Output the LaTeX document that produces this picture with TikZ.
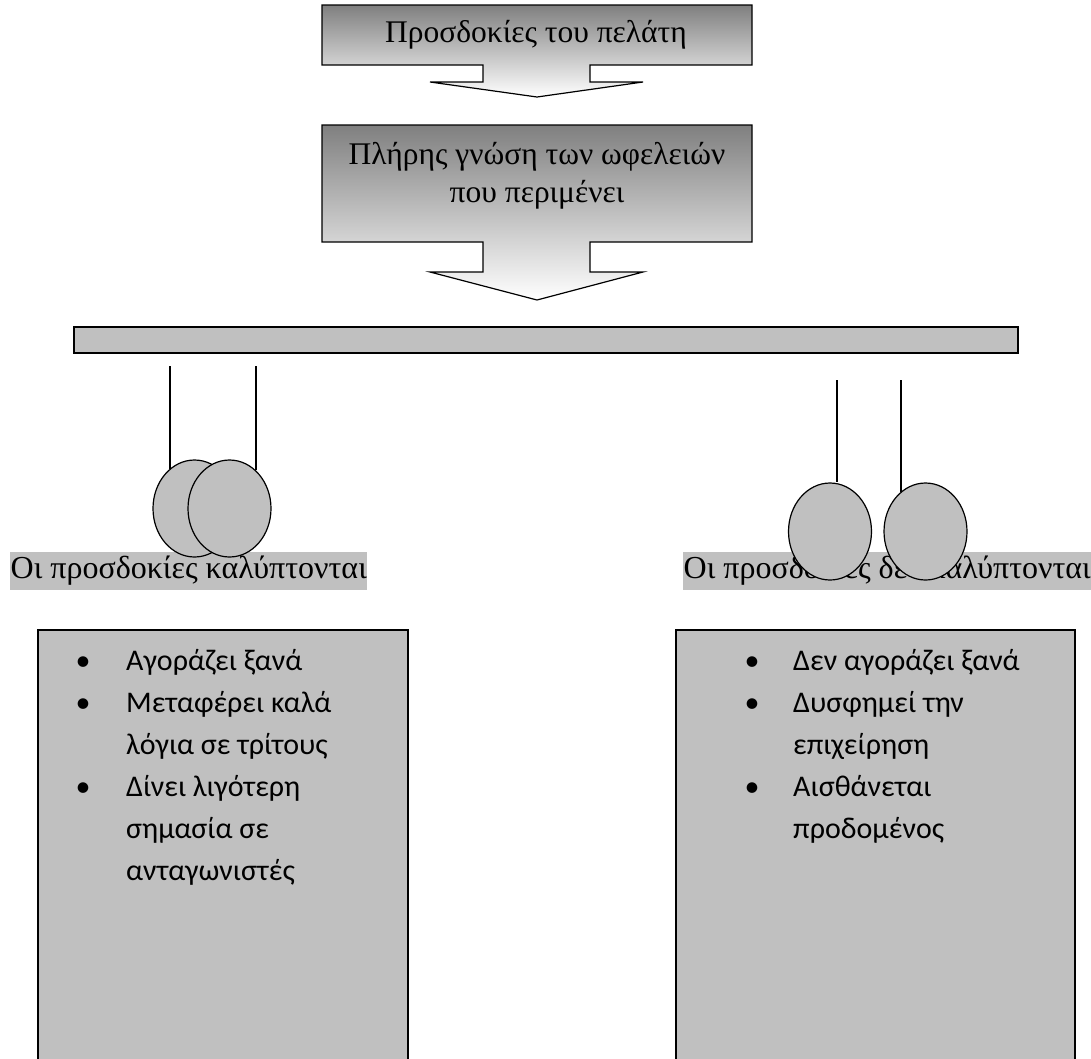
\documentclass[tikz,border=0pt]{standalone}
\usepackage{fontspec}
\setmainfont{Liberation Serif}
\newfontfamily\bodyfont{Carlito}
\usetikzlibrary{shapes.geometric}
\definecolor{panel}{HTML}{C0C0C0}
\begin{document}
\begin{tikzpicture}[x=1pt,y=-1pt,
  callout/.style={draw=black, line width=1.2pt, top color=gray, bottom color=white},
  panelbox/.style={draw=black, line width=1.2pt, fill=panel},
  headtext/.style={font=\fontsize{31.5}{38}\selectfont, align=center, inner sep=0pt},
  tag/.style={font=\fontsize{32}{36}\selectfont, fill=panel, inner xsep=0.5pt, inner ysep=0pt,
              minimum height=38pt, anchor=west},
  bob/.style={ellipse, draw=black, line width=1.2pt, fill=panel, minimum width=83pt,
              minimum height=97pt, inner sep=0pt},
  string/.style={draw=black, line width=1.4pt},
  dot/.style={font=\bodyfont\fontsize{30}{36}\selectfont, anchor=base, inner sep=0pt},
  item/.style={font=\bodyfont\fontsize{30}{36}\selectfont, anchor=base west, inner sep=0pt}
]
\useasboundingbox (0,0) rectangle (1091,1058);
\clip (0,0) rectangle (1091,1058);

% first callout arrow
\shade[callout] (322,5) -- (752,5) -- (752,65) -- (590,65) -- (590,82) -- (643,82)
  -- (537,97) -- (430,82) -- (483,82) -- (483,65) -- (322,65) -- cycle;
\node[headtext] (expect) at (536,35) {Προσδοκίες του πελάτη};

% second callout arrow
\shade[callout] (322,125) -- (752,125) -- (752,242) -- (590,242) -- (590,272) -- (643,272)
  -- (537,300) -- (430,272) -- (483,272) -- (483,242) -- (322,242) -- cycle;
\node[headtext] (know) at (537,176) {Πλήρης γνώση των ωφελειών\\που περιμένει};

% balance beam
\draw[panelbox] (74,327) rectangle (1018,353);

% labels under the pendulums
\node[tag] (yes) at (10,571) {Οι προσδοκίες καλύπτονται};
\node[tag] (no) at (683,571) {Οι προσδοκίες δεν καλύπτονται};

% left pendulum: two touching bobs
\coordinate (hL1) at (170,366);
\coordinate (hL2) at (256,366);
\node[bob] (L1) at (194.5,508.5) {};
\node[bob] (L2) at (229.5,508.5) {};
\draw[string] (hL1) -- (hL1 |- L1.122);
\draw[string] (hL2) -- (hL2 |- L2.55);

% right pendulum: two separate bobs
\coordinate (hR1) at (837,380);
\coordinate (hR2) at (901,380);
\node[bob] (R1) at (830,531.5) {};
\node[bob] (R2) at (925.5,531.5) {};
\draw[string] (hR1) -- (hR1 |- R1.north);
\draw[string] (hR2) -- (hR2 |- R2.122);

% outcome panels
\draw[panelbox] (38,630) rectangle (408,1075);
\draw[panelbox] (676,630) rectangle (1075,1075);

% left panel list
\node[dot] (lb1) at (83,670) {•};
\node[item] (l1) at (126,670) {Αγοράζει ξανά};
\node[dot] (lb2) at (83,712) {•};
\node[item] (l2) at (126,712) {Μεταφέρει καλά};
\node[item] (l3) at (126,754) {λόγια σε τρίτους};
\node[dot] (lb3) at (83,796) {•};
\node[item] (l4) at (126,796) {Δίνει λιγότερη};
\node[item] (l5) at (126,838) {σημασία σε};
\node[item] (l6) at (126,880) {ανταγωνιστές};

% right panel list
\node[dot] (rb1) at (752,670) {•};
\node[item] (r1) at (793,670) {Δεν αγοράζει ξανά};
\node[dot] (rb2) at (752,712) {•};
\node[item] (r2) at (793,712) {Δυσφημεί την};
\node[item] (r3) at (793,754) {επιχείρηση};
\node[dot] (rb3) at (752,796) {•};
\node[item] (r4) at (793,796) {Αισθάνεται};
\node[item] (r5) at (793,838) {προδομένος};
\end{tikzpicture}
\end{document}
